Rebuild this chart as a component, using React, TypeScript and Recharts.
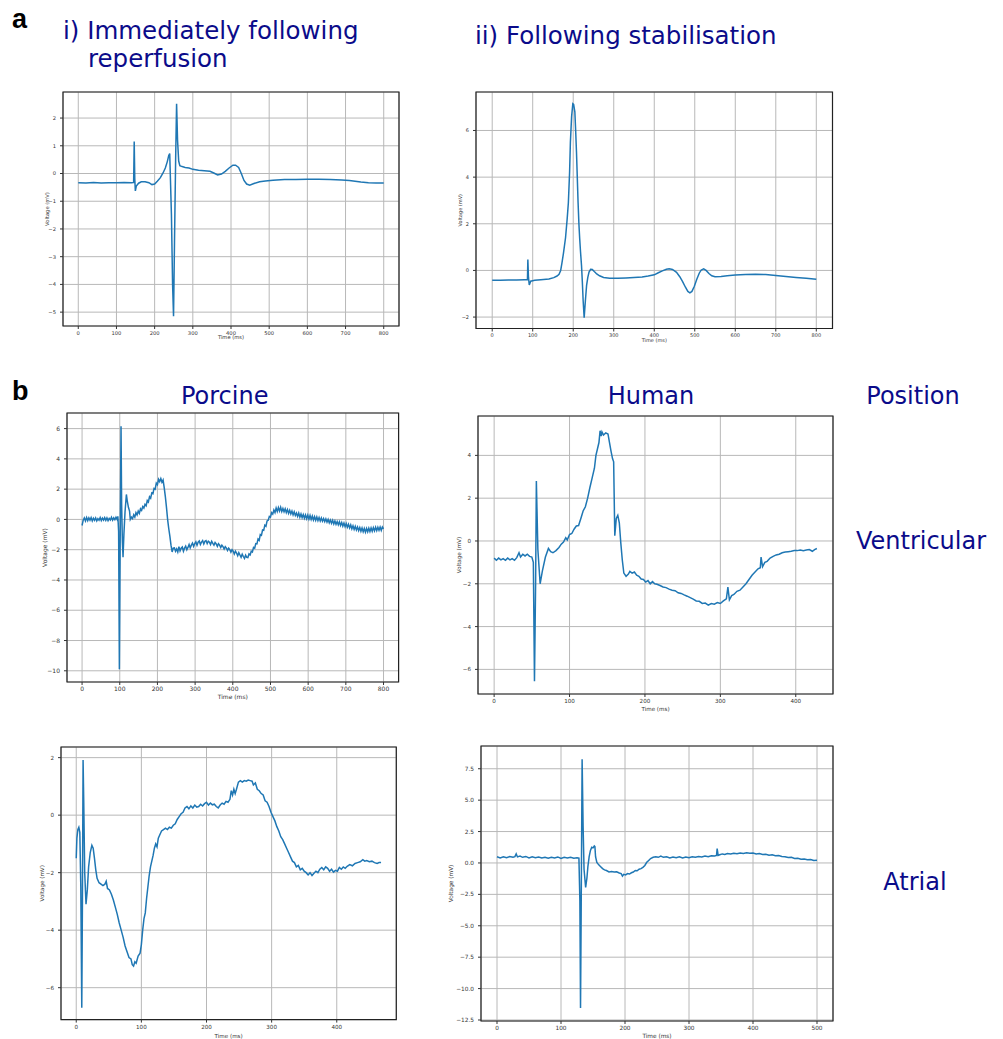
import {
  LineChart,
  Line,
  XAxis,
  YAxis,
  CartesianGrid,
  ReferenceArea,
} from "recharts";

type Pt = [number, number];

// time (ms), voltage (mV)
const reperfusionTrace: Pt[] = [
  [0, -0.33], [20, -0.34], [40, -0.32], [60, -0.34], [80, -0.33], [100, -0.33],
  [120, -0.32], [140, -0.33], [145, -0.32], [146.5, 1.15], [148, -0.2], [149.5, -0.63],
  [152, -0.45], [158, -0.35], [165, -0.3], [175, -0.3], [185, -0.33], [193, -0.4],
  [200, -0.38], [207, -0.28], [215, -0.15], [222, 0.02], [228, 0.2], [233, 0.42],
  [237, 0.65], [239.5, 0.72], [244, -1.5], [247, -4.0], [249.5, -5.15], [252, -2.5],
  [255, 0.5], [257.5, 2.52], [260, 1.2], [263, 0.45], [266, 0.28], [272, 0.25],
  [280, 0.22], [290, 0.2], [300, 0.15], [315, 0.12], [330, 0.1], [345, 0.08],
  [355, 0.02], [365, -0.05], [375, -0.02], [385, 0.08], [395, 0.2], [405, 0.3],
  [412, 0.3], [420, 0.22], [427, 0.0], [434, -0.25], [441, -0.38], [449, -0.42],
  [460, -0.36], [475, -0.3], [490, -0.27], [510, -0.24], [540, -0.22], [570, -0.22],
  [600, -0.21], [630, -0.21], [660, -0.22], [690, -0.23], [710, -0.25], [725, -0.28],
  [740, -0.31], [760, -0.33], [780, -0.34], [800, -0.34],
];

const stabilisedTrace: Pt[] = [
  [0, -0.42], [20, -0.42], [40, -0.41], [60, -0.41], [80, -0.4], [87, -0.4],
  [88, 0.47], [89.5, -0.3], [91.5, -0.62], [95, -0.46], [105, -0.42], [120, -0.4],
  [140, -0.37], [152, -0.31], [160, -0.24], [165, -0.17], [169, 0.0], [172, 0.3],
  [176, 0.75], [181, 1.4], [185, 2.2], [188, 2.9], [191, 4.2], [193, 5.5],
  [196, 6.6], [199, 7.15], [201, 7.12], [204, 6.8], [206, 6.0], [208, 5.1],
  [210, 4.0], [212, 2.9], [214, 2.0], [216, 1.36], [218, 0.8], [220.5, 0.2],
  [222.5, -0.5], [224.5, -1.3], [227, -2.03], [230, -1.3], [233, -0.64], [236, -0.3],
  [239, -0.07], [243, 0.05], [247, 0.04], [252, -0.05], [258, -0.15], [265, -0.23],
  [275, -0.3], [290, -0.34], [310, -0.34], [330, -0.32], [350, -0.3], [370, -0.28],
  [385, -0.24], [400, -0.19], [410, -0.1], [420, -0.02], [430, 0.05], [437, 0.07],
  [445, 0.04], [455, -0.08], [463, -0.27], [470, -0.48], [477, -0.72], [483, -0.9],
  [488, -0.96], [493, -0.9], [499, -0.68], [505, -0.38], [511, -0.12], [516, 0.02],
  [522, 0.07], [528, 0.0], [535, -0.13], [542, -0.23], [550, -0.27], [565, -0.26],
  [580, -0.23], [600, -0.2], [625, -0.17], [650, -0.16], [675, -0.18], [700, -0.22],
  [725, -0.26], [750, -0.3], [775, -0.34], [800, -0.38],
];

const porcineVentricular: Pt[] = [
  [0, -0.4], [3, -0.05], [6, 0.1], [9, -0.1], [12, 0.12], [15, -0.08], [18, 0.1],
  [21, -0.05], [24, 0.12], [27, -0.1], [30, 0.08], [33, -0.06], [36, 0.1], [39, -0.1],
  [42, 0.05], [45, -0.05], [48, 0.12], [51, -0.08], [54, 0.08], [57, -0.05], [60, 0.12],
  [63, -0.06], [66, 0.1], [69, -0.08], [72, 0.06], [75, -0.04], [78, 0.14], [81, -0.05],
  [84, 0.1], [87, -0.02], [90, 0.15], [93, 0.0], [95, 0.2], [97, -0.8], [99, -9.9],
  [101, -2.0], [103.4, 6.15], [105, 1.0], [107, -1.5], [108.7, -2.5], [111, -1.0],
  [114, 0.5], [117.6, 1.65], [120, 1.2], [123, 0.8], [126, 0.55], [128, 0.0],
  [131, 0.15], [134, 0.05], [137, 0.3], [140, 0.15], [143, 0.45], [146, 0.3],
  [149, 0.55], [152, 0.4], [155, 0.7], [158, 0.6], [161, 0.85], [164, 0.75],
  [167, 1.0], [170, 0.9], [173, 1.25], [176, 1.15], [179, 1.5], [182, 1.4],
  [185, 1.75], [188, 1.7], [191, 2.05], [194, 2.0], [197, 2.4], [200, 2.3],
  [203, 2.65], [206, 2.5], [209, 2.7], [212, 2.45], [215, 2.6], [218, 2.1],
  [221, 1.5], [224, 0.8], [227, 0.0], [230, -0.6], [233, -1.1], [236, -1.7],
  [239, -2.15], [242, -1.9], [245, -1.88], [248, -2.1], [251, -1.95], [254, -2.15],
  [257, -1.8], [260, -2.08], [263, -1.9], [266, -1.82], [269, -2.1], [272, -1.9],
  [275, -1.76], [278, -2.0], [281, -1.85], [284, -1.66], [287, -1.88], [290, -1.7],
  [293, -1.56], [296, -1.78], [299, -1.6], [302, -1.48], [305, -1.7], [308, -1.5],
  [311, -1.42], [314, -1.66], [317, -1.5], [320, -1.4], [323, -1.62], [326, -1.45],
  [329, -1.4], [332, -1.6], [335, -1.44], [338, -1.5], [341, -1.66], [344, -1.45],
  [347, -1.58], [350, -1.7], [353, -1.52], [356, -1.62], [359, -1.78], [362, -1.6],
  [365, -1.7], [368, -1.86], [371, -1.7], [374, -1.8], [377, -1.96], [380, -1.8],
  [383, -1.9], [386, -2.05], [389, -1.9], [392, -2.0], [395, -2.16], [398, -2.0],
  [401, -2.1], [404, -2.28], [407, -2.1], [410, -2.22], [413, -2.4], [416, -2.2],
  [419, -2.35], [422, -2.5], [425, -2.3], [428, -2.45], [431, -2.58], [434, -2.36],
  [437, -2.5], [440, -2.52], [443, -2.28], [446, -2.35], [449, -2.1], [452, -2.15],
  [455, -1.85], [458, -1.9], [461, -1.6], [464, -1.62], [467, -1.3], [470, -1.38],
  [473, -1.0], [476, -1.05], [479, -0.7], [482, -0.72], [485, -0.38], [488, -0.45],
  [491, -0.1], [494, -0.05], [497, 0.2], [500, 0.15], [503, 0.45], [506, 0.35],
  [509, 0.62], [512, 0.45], [515, 0.75], [518, 0.52], [521, 0.78], [524, 0.55],
  [527, 0.8], [530, 0.52], [533, 0.72], [536, 0.5], [539, 0.7], [542, 0.45],
  [545, 0.65], [548, 0.4], [551, 0.6], [554, 0.36], [557, 0.55], [560, 0.3],
  [563, 0.5], [566, 0.26], [569, 0.42], [572, 0.2], [575, 0.42], [578, 0.15],
  [581, 0.36], [584, 0.12], [587, 0.32], [590, 0.08], [593, 0.3], [596, 0.05],
  [599, 0.28], [602, 0.02], [605, 0.26], [608, 0.0], [611, 0.22], [614, -0.04],
  [617, 0.18], [620, -0.06], [623, 0.16], [626, -0.08], [629, 0.12], [632, -0.1],
  [635, 0.1], [638, -0.12], [641, 0.06], [644, -0.15], [647, 0.04], [650, -0.18],
  [653, 0.0], [656, -0.22], [659, -0.04], [662, -0.26], [665, -0.06], [668, -0.3],
  [671, -0.1], [674, -0.32], [677, -0.14], [680, -0.36], [683, -0.16], [686, -0.4],
  [689, -0.2], [692, -0.44], [695, -0.24], [698, -0.48], [701, -0.28], [704, -0.52],
  [707, -0.32], [710, -0.56], [713, -0.36], [716, -0.62], [719, -0.42], [722, -0.66],
  [725, -0.46], [728, -0.7], [731, -0.5], [734, -0.74], [737, -0.54], [740, -0.78],
  [743, -0.56], [746, -0.82], [749, -0.6], [752, -0.84], [755, -0.6], [758, -0.82],
  [761, -0.58], [764, -0.8], [767, -0.56], [770, -0.78], [773, -0.54], [776, -0.76],
  [779, -0.52], [782, -0.74], [785, -0.52], [788, -0.72], [791, -0.5], [794, -0.72],
  [797, -0.5], [800, -0.62],
];

const humanVentricular: Pt[] = [
  [0, -0.8], [3, -0.9], [6, -0.8], [9, -0.88], [12, -0.82], [15, -0.9], [18, -0.8],
  [21, -0.88], [24, -0.82], [27, -0.9], [30, -0.78], [33, -0.55], [35, -0.75],
  [38, -0.62], [41, -0.7], [44, -0.62], [47, -0.72], [50, -0.75], [52, -1.0],
  [53.5, -6.55], [55, -2.0], [56, 2.8], [58, -0.4], [61, -2.0], [64, -1.4],
  [68, -0.75], [72, -0.35], [75, -0.5], [78, -0.55], [82, -0.45], [86, -0.3],
  [89, -0.15], [92, -0.05], [95, 0.15], [97, 0.05], [100, 0.3], [103, 0.35],
  [106, 0.55], [109, 0.7], [112, 0.72], [115, 1.05], [118, 1.4], [121, 1.6],
  [124, 2.0], [127, 2.5], [130, 2.95], [133, 3.4], [135, 4.0], [137, 4.3],
  [139, 4.6], [140.5, 5.15], [142, 4.9], [143, 5.1], [145, 4.95], [148, 5.05],
  [151, 5.0], [153, 4.6], [155, 4.2], [157, 3.85], [158.5, 3.7], [160, 0.25],
  [162, 1.05], [164, 1.2], [166, 0.85], [168, -0.1], [170, -0.9], [172, -1.5],
  [175, -1.65], [178, -1.55], [180, -1.42], [183, -1.5], [186, -1.45], [189, -1.6],
  [192, -1.65], [195, -1.78], [198, -1.8], [201, -1.92], [204, -1.85], [207, -2.0],
  [210, -1.9], [213, -2.0], [216, -2.02], [220, -2.08], [224, -2.15], [228, -2.18],
  [232, -2.25], [236, -2.3], [240, -2.32], [244, -2.42], [248, -2.45], [252, -2.52],
  [256, -2.58], [260, -2.65], [264, -2.72], [268, -2.8], [272, -2.82], [276, -2.92],
  [280, -2.9], [284, -3.0], [288, -2.92], [292, -2.95], [296, -2.88], [300, -2.92],
  [304, -2.8], [308, -2.7], [310, -2.15], [312, -2.75], [315, -2.55], [318, -2.5],
  [322, -2.35], [326, -2.3], [330, -2.15], [334, -2.0], [338, -1.8], [342, -1.6],
  [346, -1.45], [350, -1.3], [353, -1.25], [354, -0.75], [356, -1.2], [359, -1.0],
  [362, -0.95], [366, -0.8], [370, -0.72], [374, -0.65], [378, -0.62], [382, -0.55],
  [386, -0.52], [390, -0.5], [394, -0.48], [398, -0.45], [402, -0.45], [406, -0.42],
  [410, -0.45], [414, -0.42], [418, -0.4], [422, -0.48], [425, -0.4], [428, -0.35],
];

const porcineAtrial: Pt[] = [
  [0, -1.5], [1, -0.8], [2.5, -0.5], [4, -0.42], [5.5, -0.6], [7, -2.5], [8.5, -6.7],
  [9.5, -3.0], [10.5, 1.92], [11.5, 0.5], [13, -2.0], [15, -3.1], [17, -2.6],
  [19, -1.8], [21.5, -1.3], [24, -1.05], [26, -1.15], [28, -1.5], [30, -1.9],
  [32, -2.2], [35, -2.35], [38, -2.4], [41, -2.45], [44, -2.4], [46, -2.3],
  [48, -2.55], [51, -2.6], [54, -2.75], [57, -2.95], [60, -3.2], [63, -3.45],
  [66, -3.75], [69, -4.0], [72, -4.25], [75, -4.55], [78, -4.75], [81, -4.95],
  [84, -5.0], [86, -5.2], [88, -5.25], [90, -5.1], [92, -5.15], [95, -4.9],
  [98, -4.8], [100, -4.5], [102, -4.0], [104, -3.6], [106, -3.4], [108, -2.9],
  [110, -2.5], [112, -2.1], [114, -1.8], [116, -1.6], [118, -1.4], [120, -1.15],
  [122, -1.0], [124, -1.1], [126, -0.8], [128, -0.7], [131, -0.55], [134, -0.5],
  [137, -0.45], [140, -0.5], [143, -0.42], [146, -0.45], [149, -0.35], [152, -0.3],
  [155, -0.15], [158, -0.05], [161, 0.05], [164, 0.1], [167, 0.25], [170, 0.3],
  [173, 0.22], [176, 0.32], [179, 0.25], [182, 0.35], [185, 0.28], [188, 0.3],
  [191, 0.38], [194, 0.32], [197, 0.4], [200, 0.45], [203, 0.35], [206, 0.42],
  [209, 0.36], [212, 0.38], [215, 0.3], [218, 0.25], [221, 0.35], [224, 0.42],
  [227, 0.38], [230, 0.48], [233, 0.45], [236, 0.55], [238, 0.85], [240, 0.7],
  [242, 0.9], [244, 0.75], [246, 0.9], [249, 1.15], [252, 1.2], [255, 1.15],
  [258, 1.2], [261, 1.18], [264, 1.22], [267, 1.2], [270, 1.18], [272, 1.05],
  [275, 1.12], [278, 0.9], [281, 0.85], [284, 0.75], [287, 0.7], [290, 0.5],
  [293, 0.45], [296, 0.3], [299, 0.1], [302, -0.05], [305, -0.2], [308, -0.4],
  [311, -0.55], [314, -0.75], [317, -0.85], [320, -1.0], [323, -1.15], [326, -1.3],
  [329, -1.45], [332, -1.6], [335, -1.65], [338, -1.8], [341, -1.75], [344, -1.9],
  [347, -1.85], [350, -1.95], [353, -2.0], [356, -2.08], [359, -2.0], [362, -2.1],
  [365, -2.02], [368, -1.95], [371, -2.0], [374, -1.88], [377, -1.82], [380, -1.9],
  [383, -1.8], [386, -1.85], [389, -1.95], [392, -1.88], [395, -1.98], [398, -1.92],
  [401, -1.95], [404, -1.82], [407, -1.88], [410, -1.8], [413, -1.85], [416, -1.78],
  [420, -1.72], [424, -1.76], [428, -1.68], [432, -1.65], [436, -1.62], [440, -1.55],
  [443, -1.6], [446, -1.58], [450, -1.62], [454, -1.6], [458, -1.65], [462, -1.68],
  [465, -1.65], [468, -1.65],
];

const humanAtrial: Pt[] = [
  [0, 0.5], [5, 0.4], [10, 0.5], [15, 0.42], [20, 0.52], [25, 0.45], [28, 0.5],
  [30, 0.72], [32, 0.48], [36, 0.55], [40, 0.45], [45, 0.52], [50, 0.4], [55, 0.5],
  [60, 0.42], [65, 0.48], [70, 0.4], [75, 0.46], [80, 0.38], [85, 0.45], [90, 0.4],
  [95, 0.48], [100, 0.36], [105, 0.45], [110, 0.4], [115, 0.46], [120, 0.38],
  [125, 0.42], [128, 0.38], [129.5, -3.0], [130.5, -11.55], [131.5, -4.0], [133, 8.25],
  [134.5, 3.0], [136, -0.5], [138.5, -1.95], [140.5, -1.2], [142, -0.3], [144, 0.5],
  [146, 1.0], [148, 1.25], [150, 1.2], [152, 1.35], [153, 1.3], [154, 0.5],
  [156, 0.05], [159, -0.15], [162, -0.3], [165, -0.45], [168, -0.55], [171, -0.6],
  [175, -0.72], [179, -0.68], [183, -0.72], [187, -0.7], [191, -0.8], [194, -0.85],
  [196, -1.05], [198, -0.9], [201, -0.95], [204, -0.85], [207, -0.88], [210, -0.78],
  [213, -0.72], [216, -0.6], [219, -0.62], [222, -0.5], [225, -0.45], [228, -0.35],
  [231, -0.2], [234, 0.05], [237, 0.2], [240, 0.35], [244, 0.45], [248, 0.5],
  [252, 0.45], [256, 0.55], [260, 0.45], [265, 0.5], [270, 0.4], [275, 0.48],
  [280, 0.42], [285, 0.5], [290, 0.4], [295, 0.48], [300, 0.42], [305, 0.5],
  [310, 0.45], [315, 0.52], [320, 0.48], [325, 0.55], [330, 0.5], [335, 0.58],
  [340, 0.55], [343, 0.6], [344, 1.15], [345.5, 0.6], [348, 0.65], [352, 0.72],
  [356, 0.68], [360, 0.75], [365, 0.72], [370, 0.78], [375, 0.74], [380, 0.8],
  [385, 0.76], [390, 0.82], [395, 0.78], [400, 0.8], [405, 0.72], [410, 0.75],
  [415, 0.68], [420, 0.7], [425, 0.62], [430, 0.66], [435, 0.58], [440, 0.6],
  [445, 0.52], [450, 0.5], [455, 0.44], [460, 0.45], [465, 0.36], [470, 0.38],
  [475, 0.3], [480, 0.32], [485, 0.25], [490, 0.28], [495, 0.2], [500, 0.22],
];

const ticks800 = [0, 100, 200, 300, 400, 500, 600, 700, 800];
const ticks400 = [0, 100, 200, 300, 400];
const ticks500 = [0, 100, 200, 300, 400, 500];

const reperfusionYTicks = [-5, -4, -3, -2, -1, 0, 1, 2];
const stabilisedYTicks = [-2, 0, 2, 4, 6];
const porcineVentYTicks = [-10, -8, -6, -4, -2, 0, 2, 4, 6];
const humanVentYTicks = [-6, -4, -2, 0, 2, 4];
const porcineAtrialYTicks = [-6, -4, -2, 0, 2];
const humanAtrialYTicks = [-12.5, -10, -7.5, -5, -2.5, 0, 2.5, 5, 7.5];

const TRACE = "#1f77b4";
const NAVY = "#0b0b8a";
const AXIS_TEXT = "#333";

interface Box {
  x: number;
  y: number;
  w: number;
  h: number;
}

interface PanelProps {
  data: Pt[];
  box: Box;
  xDomain: [number, number];
  yDomain: [number, number];
  xTicks: number[];
  yTicks: number[];
  font: number;
  yLabelGap: number;
  xLabelGap: number;
  yDecimals?: number;
}

const minus = (s: string) => s.replace("-", "\u2212");

function Panel({
  data,
  box,
  xDomain,
  yDomain,
  xTicks,
  yTicks,
  font,
  yLabelGap,
  xLabelGap,
  yDecimals,
}: PanelProps) {
  const yW = 44;
  const mt = 4;
  const mr = 4;
  const pad = 5; // room below the x label so descenders are not cut
  const xH = Math.round(xLabelGap + 0.36 * font) + pad;
  const rows = data.map(([t, v]) => ({ t, v }));
  const fmtX = (n: number) => minus(String(n));
  const fmtY = (n: number) => minus(yDecimals ? n.toFixed(yDecimals) : String(n));
  const textStyle = { fontSize: font, fill: AXIS_TEXT, fontFamily: "DejaVu Sans" };

  return (
    <div style={{ position: "absolute", left: box.x - yW, top: box.y - mt }}>
      <LineChart
        width={box.w + yW + mr}
        height={box.h + mt + xH}
        data={rows}
        margin={{ top: mt, right: mr, bottom: 0, left: 0 }}
      >
        <CartesianGrid stroke="#b8b8b8" strokeWidth={1} />
        <XAxis
          dataKey="t"
          type="number"
          domain={xDomain}
          ticks={xTicks}
          interval={0}
          allowDataOverflow
          height={xH}
          tickSize={3}
          tickMargin={2}
          axisLine={false}
          tickLine={{ stroke: AXIS_TEXT }}
          tick={textStyle}
          tickFormatter={fmtX}
          label={{ value: "Time (ms)", position: "insideBottom", offset: pad, ...textStyle }}
        />
        <YAxis
          type="number"
          domain={yDomain}
          ticks={yTicks}
          interval={0}
          allowDataOverflow
          width={yW}
          tickSize={3}
          tickMargin={4}
          axisLine={false}
          tickLine={{ stroke: AXIS_TEXT }}
          tick={textStyle}
          tickFormatter={fmtY}
          label={{
            value: "Voltage (mV)",
            angle: -90,
            position: "insideLeft",
            offset: yW - yLabelGap,
            style: { textAnchor: "middle" },
            ...textStyle,
          }}
        />
        <Line
          dataKey="v"
          type="linear"
          stroke={TRACE}
          strokeWidth={1.5}
          dot={false}
          isAnimationActive={false}
        />
        <ReferenceArea
          x1={xDomain[0]}
          x2={xDomain[1]}
          y1={yDomain[0]}
          y2={yDomain[1]}
          fill="none"
          stroke="#222"
          strokeWidth={1.2}
          ifOverflow="visible"
        />
      </LineChart>
    </div>
  );
}

export default function App() {
  return (
    <div
      style={{
        position: "absolute",
        left: 0,
        top: 0,
        width: 1003,
        height: 1039,
        background: "#fff",
        overflow: "hidden",
      }}
    >
      <Panel
        data={reperfusionTrace}
        box={{ x: 63, y: 92, w: 336, h: 234 }}
        xDomain={[-40, 840]}
        yDomain={[-5.5, 2.94]}
        xTicks={ticks800}
        yTicks={reperfusionYTicks}
        font={5.2}
        yLabelGap={15.5}
        xLabelGap={11.5}
      />
      <Panel
        data={stabilisedTrace}
        box={{ x: 476, y: 91.5, w: 356.5, h: 236.5 }}
        xDomain={[-40, 840]}
        yDomain={[-2.49, 7.65]}
        xTicks={ticks800}
        yTicks={stabilisedYTicks}
        font={5}
        yLabelGap={16}
        xLabelGap={11}
      />
      <Panel
        data={porcineVentricular}
        box={{ x: 66.7, y: 413.3, w: 331.6, h: 269 }}
        xDomain={[-40, 840]}
        yDomain={[-10.74, 7.03]}
        xTicks={ticks800}
        yTicks={porcineVentYTicks}
        font={6}
        yLabelGap={21.7}
        xLabelGap={14.7}
      />
      <Panel
        data={humanVentricular}
        box={{ x: 477.7, y: 416, w: 355, h: 278 }}
        xDomain={[-21.4, 449.4]}
        yDomain={[-7.15, 5.84]}
        xTicks={ticks400}
        yTicks={humanVentYTicks}
        font={5.6}
        yLabelGap={19.4}
        xLabelGap={15}
      />
      <Panel
        data={porcineAtrial}
        box={{ x: 60.7, y: 746.7, w: 335.3, h: 272.6 }}
        xDomain={[-23.4, 491.4]}
        yDomain={[-7.11, 2.37]}
        xTicks={ticks400}
        yTicks={porcineAtrialYTicks}
        font={5.6}
        yLabelGap={19}
        xLabelGap={15.7}
      />
      <Panel
        data={humanAtrial}
        box={{ x: 480.7, y: 746, w: 352, h: 275 }}
        xDomain={[-25, 525]}
        yDomain={[-12.58, 9.31]}
        xTicks={ticks500}
        yTicks={humanAtrialYTicks}
        font={5.8}
        yLabelGap={30}
        xLabelGap={15}
        yDecimals={1}
      />

      <svg
        width={1003}
        height={1039}
        style={{ position: "absolute", left: 0, top: 0, pointerEvents: "none" }}
      >
        <g fontFamily="Liberation Sans, Arial, sans-serif" fontWeight="bold" fontSize={27} fill="#000">
          <text x={12} y={28}>a</text>
          <text x={12} y={400}>b</text>
        </g>
        <g fontFamily="DejaVu Sans, Verdana, sans-serif" fontSize={24.5} fill={NAVY}>
          <text x={63} y={38.5}>i) Immediately following</text>
          <text x={88} y={67}>reperfusion</text>
          <text x={475} y={43.5}>ii) Following stabilisation</text>
        </g>
        <g fontFamily="DejaVu Sans, Verdana, sans-serif" fontSize={24} fill={NAVY} textAnchor="middle">
          <text x={224.7} y={404}>Porcine</text>
          <text x={651} y={404}>Human</text>
          <text x={913} y={404}>Position</text>
          <text x={921} y={549}>Ventricular</text>
          <text x={915} y={890}>Atrial</text>
        </g>
      </svg>
    </div>
  );
}
